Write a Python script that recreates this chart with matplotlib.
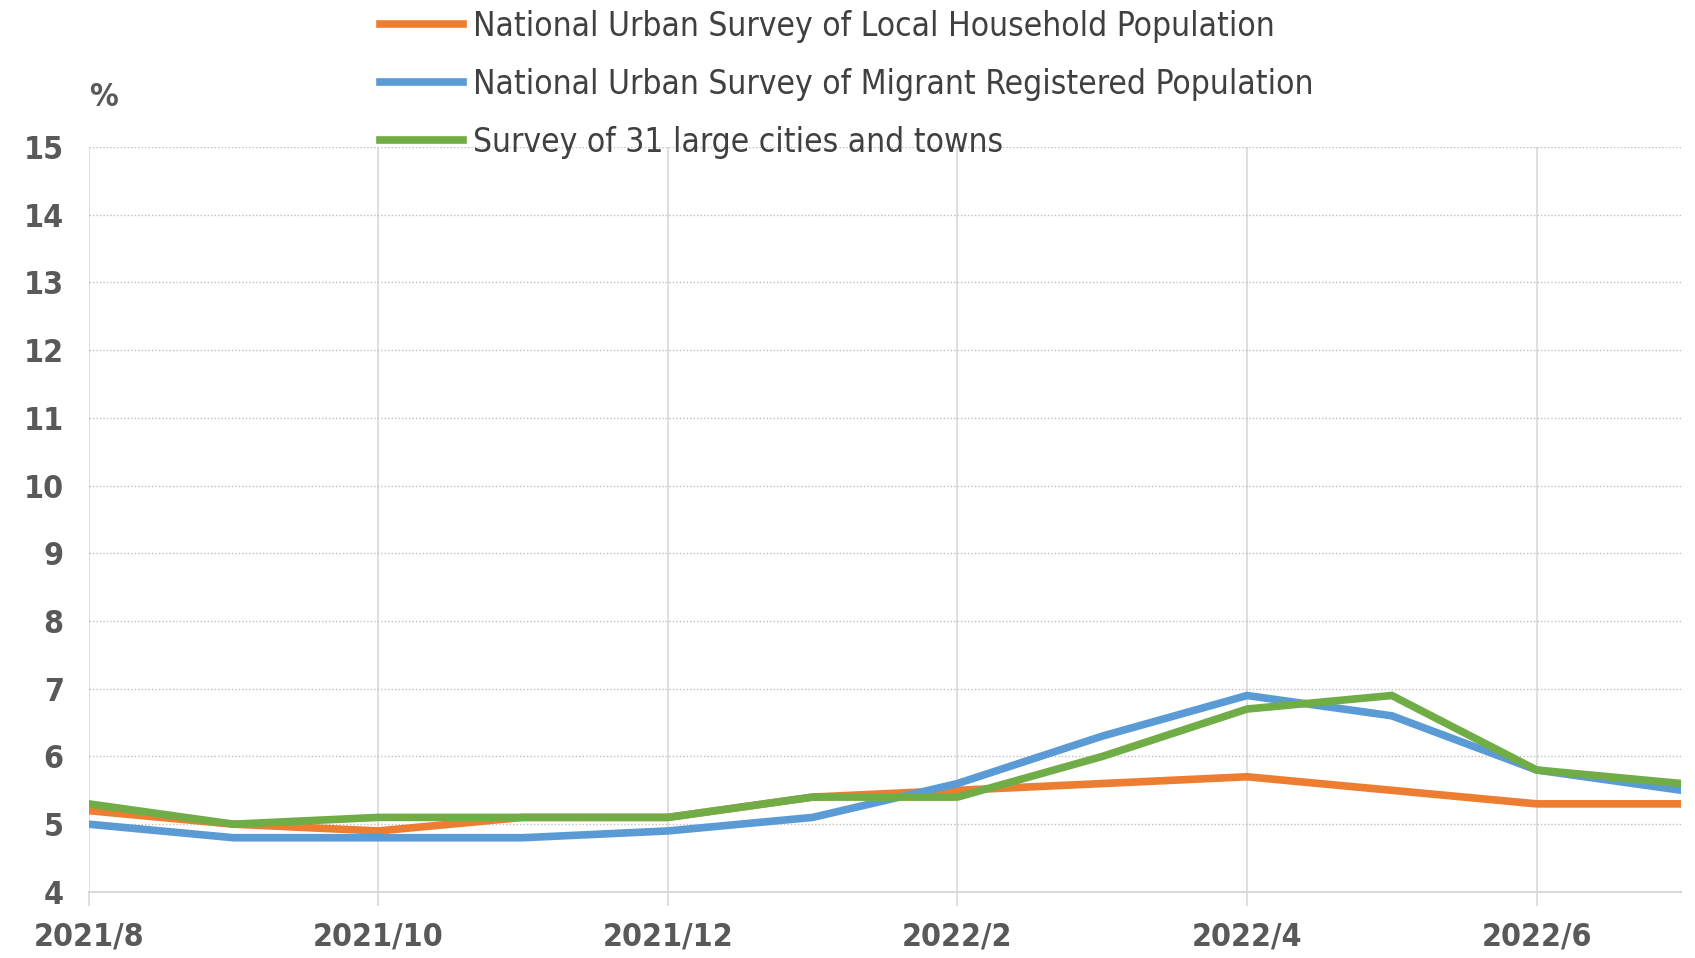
# Urban surveyed unemployment rate, 2021/8 - 2022/7

import matplotlib.pyplot as plt

months = ["2021/8", "2021/9", "2021/10", "2021/11", "2021/12", "2022/1",
          "2022/2", "2022/3", "2022/4", "2022/5", "2022/6", "2022/7"]
local_hh = [5.2, 5.0, 4.9, 5.1, 5.1, 5.4, 5.5, 5.6, 5.7, 5.5, 5.3, 5.3]
migrant = [5.0, 4.8, 4.8, 4.8, 4.9, 5.1, 5.6, 6.3, 6.9, 6.6, 5.8, 5.5]
cities31 = [5.3, 5.0, 5.1, 5.1, 5.1, 5.4, 5.4, 6.0, 6.7, 6.9, 5.8, 5.6]
labels = ["National Urban Survey of Local Household Population",
          "National Urban Survey of Migrant Registered Population",
          "Survey of 31 large cities and towns"]
colors = ["#ED7D31", "#5B9BD5", "#70AD47"]

plt.rcParams['font.family'] = ['DejaVu Sans']
plt.rcParams['font.stretch'] = 'condensed'

fig = plt.figure(figsize=(16.95, 9.58), dpi=100)
ax = fig.add_axes([0.0523, 0.069, 0.9397, 0.7776])

x = list(range(len(months)))
lines = []
for series, lab, col in zip([local_hh, migrant, cities31], labels, colors):
    ln, = ax.plot(x, series, color=col, lw=5.5, label=lab, solid_joinstyle='miter')
    lines.append(ln)

ax.set_xlim(0, len(months) - 1)
ax.set_ylim(4, 15)
ax.set_yticks(range(4, 16))
ax.set_xticks(x[::2])
ax.set_xticklabels(months[::2])

ax.grid(axis='y', color='#BFBFBF', linestyle=(0, (1, 1.5)), lw=1)
ax.grid(axis='x', color='#D9D9D9', linestyle='-', lw=1.2)
ax.set_axisbelow(True)
for s in ['top', 'right', 'left']:
    ax.spines[s].set_visible(False)
ax.spines['bottom'].set_color('#D9D9D9')
ax.spines['bottom'].set_linewidth(1.5)

ax.tick_params(axis='y', length=0, pad=18, labelsize=23, labelcolor='#595959')
ax.tick_params(axis='x', length=10, width=1.2, color='#D9D9D9', pad=11,
               labelsize=23, labelcolor='#595959')
for t in ax.get_xticklabels() + ax.get_yticklabels():
    t.set_fontweight('bold')

fig.text(0.061, 0.898, "%", fontsize=23, color='#595959', ha='center', va='center',
         fontweight='bold')

fig.legend(handles=lines, loc='upper left', bbox_to_anchor=(0.2065, 1.021),
           frameon=False, fontsize=24, handlelength=2.5, handletextpad=0.3,
           labelspacing=0.75, labelcolor='#404040')

fig.savefig("out.png", dpi=100)
